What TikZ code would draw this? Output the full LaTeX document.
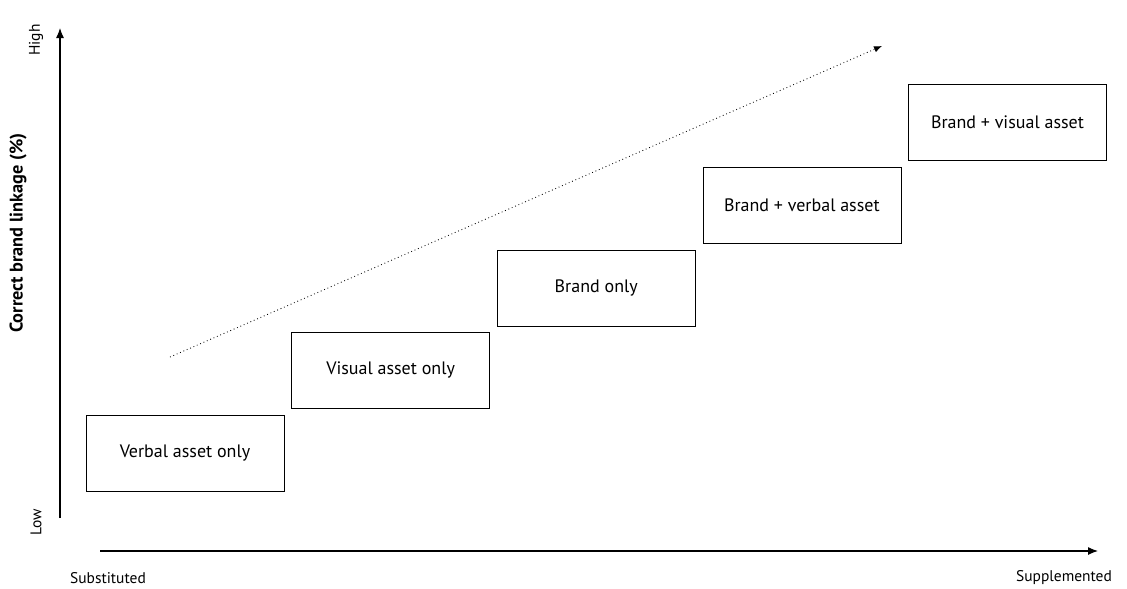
\documentclass[tikz,border=0pt]{standalone}
\usepackage{fontspec}
\setmainfont{PT Sans}
\usetikzlibrary{positioning, arrows.meta}

\begin{document}
\begin{tikzpicture}[
    x=0.025cm,
    y=-0.025cm,
    box/.style={
        draw,
        align=center,
        minimum width=4.95cm,
        minimum height=1.9cm,
        font=\fontsize{12.8}{15}\selectfont
    },
    axis/.style={
        -{Latex[length=2.5mm, width=2mm]},
        thick
    },
    trend/.style={
        -{Latex[length=2mm, width=1.6mm]},
        dotted,
        semithick
    },
    tick/.style={
        font=\fontsize{11}{13}\selectfont
    }
]
\useasboundingbox (0,0) rectangle (1127,588);

\node[box] (verbal) at (185,453) {Verbal asset only};
\node[box, above right=1.5mm and 1.75mm of verbal] (visual) {Visual asset only};
\node[box, above right=1.5mm and 1.75mm of visual] (brand) {Brand only};
\node[box, above right=1.5mm and 1.75mm of brand] (brandverbal) {Brand + verbal asset};
\node[box, above right=1.5mm and 1.75mm of brandverbal] (brandvisual) {Brand + visual asset};

\coordinate (ybottom) at (60,518);
\coordinate (ytop) at (60,28);
\coordinate (xleft) at (100,551);
\coordinate (xright) at (1098,551);
\coordinate (trendstart) at (170,357);
\coordinate (trendend) at (882,46);

\draw[axis] (ybottom) -- (ytop);
\draw[axis] (xleft) -- (xright);
\draw[trend] (trendstart) -- (trendend);

\node[tick, rotate=90] (high) at (36,40) {High};
\node[tick, rotate=90] (low) at (36,522) {Low};
\node[rotate=90, font=\fontsize{13}{15}\selectfont\bfseries] (ylabel) at (18,233) {Correct brand linkage (\%)};
\node[tick] (substituted) at (108,578) {Substituted};
\node[tick] (supplemented) at (1064,578) {Supplemented};

\end{tikzpicture}
\end{document}
